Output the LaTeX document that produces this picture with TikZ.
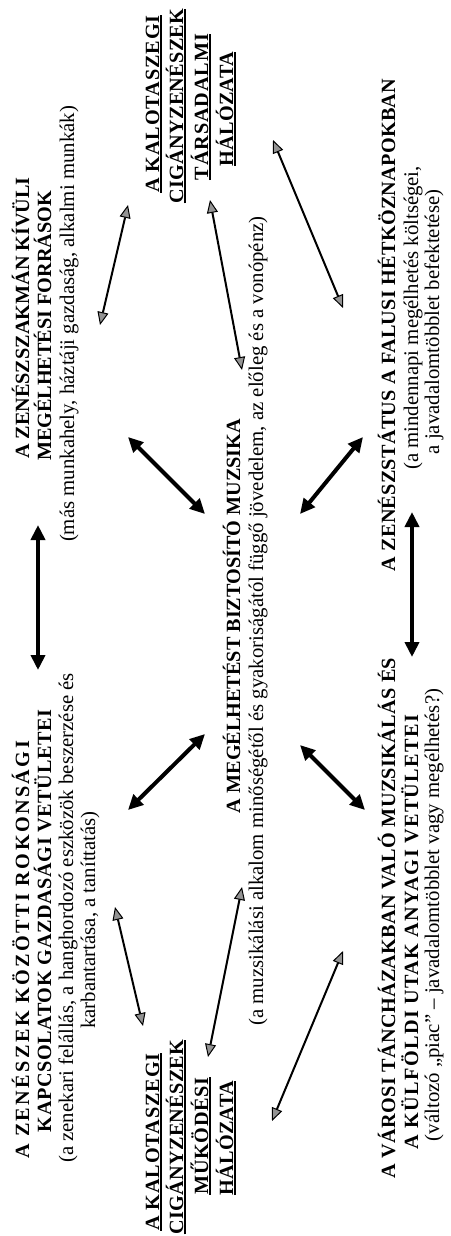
\documentclass[tikz,border=0pt]{standalone}
\usepackage{fontspec}
\setmainfont{Liberation Serif}
\usetikzlibrary{arrows.meta}
\newcommand\myul[1]{\setbox0=\hbox{#1}\rlap{\rule[-1.6pt]{\wd0}{0.9pt}}\box0}
\newcommand\lsp[2]{{\addfontfeature{LetterSpace=#1}#2}}
\begin{document}
\begin{tikzpicture}[x=0.5pt,y=-0.5pt,
  lbl/.style={rotate=90,anchor=base,inner sep=0pt,font=\fontsize{10.4}{12}\selectfont},
  hd/.style={rotate=90,anchor=base,inner sep=0pt,font=\fontsize{10.1}{12}\selectfont\bfseries},
  bigarr/.style={line width=2pt,{Triangle[length=7.5pt,width=7pt]}-{Triangle[length=7.5pt,width=7pt]}},
  thinarr/.style={line width=1pt,{Triangle[length=6.5pt,width=5.5pt,line width=0.5pt,fill=gray!85]}-{Triangle[length=6.5pt,width=5.5pt,line width=0.5pt,fill=gray!85]}}
]
\fill[white] (0,0) rectangle (450,1236);
\useasboundingbox (0,0) rectangle (450,1236);

% top-left block (image bottom-left)
\node[hd]  (tl1) at (29,950) {\lsp{12}{A ZENÉSZEK KÖZÖTTI ROKONSÁGI}};
\node[hd]  (tl2) at (51,921) {\lsp{3}{KAPCSOLATOK GAZDASÁGI VETÜLETEI}};
\node[lbl] (tl3) at (73,918) {(a zenekari felállás, a hanghordozó eszközök beszerzése és};
\node[lbl] (tl4) at (95,920) {karbantartása, a taníttatás)};

% top-right block (image top-left)
\node[hd]  (tr1) at (29,318) {A ZENÉSZSZAKMÁN KÍVÜLI};
\node[hd]  (tr2) at (51,326) {MEGÉLHETÉSI FORRÁSOK};
\node[lbl] (tr3) at (74,324) {(más munkahely, háztáji gazdaság, alkalmi munkák)};

% social network block
\node[hd] (so1) at (159,104) {\myul{\lsp{4.5}{A KALOTASZEGI}}};
\node[hd] (so2) at (183,106) {\myul{\lsp{1.5}{CIGÁNYZENÉSZEK}}};
\node[hd] (so3) at (208,107) {\myul{\lsp{4.5}{TÁRSADALMI}}};
\node[hd] (so4) at (233,109) {\myul{\lsp{1}{HÁLÓZATA}}};

% operating network block
\node[hd] (op1) at (159,1142) {\myul{\lsp{4.5}{A KALOTASZEGI}}};
\node[hd] (op2) at (183,1137) {\myul{\lsp{1.5}{CIGÁNYZENÉSZEK}}};
\node[hd] (op3) at (208,1136) {\myul{\lsp{3.7}{MŰKÖDÉSI}}};
\node[hd] (op4) at (233,1138) {\myul{\lsp{1}{HÁLÓZATA}}};

% centre
\node[hd]  (c1) at (240,616) {A MEGÉLHETÉST BIZTOSÍTÓ MUZSIKA};
\node[lbl] (c2) at (263,621) {(a muzsikálási alkalom minőségétől és gyakoriságától függő jövedelem, az előleg és a vonópénz)};

% bottom-left block (image bottom-right)
\node[hd]  (bl1) at (395,918) {\lsp{1.7}{A VÁROSI TÁNCHÁZAKBAN VALÓ MUZSIKÁLÁS ÉS}};
\node[hd]  (bl2) at (418,932) {\lsp{6.8}{A KÜLFÖLDI UTAK ANYAGI VETÜLETEI}};
\node[lbl] (bl3) at (439,915) {(változó „piac” – javadalomtöbblet vagy megélhetés?)};

% bottom-right block (image top-right)
\node[hd]  (br1) at (395,325) {\lsp{1.4}{A ZENÉSZSTÁTUS A FALUSI HÉTKÖZNAPOKBAN}};
\node[lbl] (br2) at (418,318) {(a mindennapi megélhetés költségei,};
\node[lbl] (br3) at (439,322) {a javadalomtöbblet befektetése)};

% arrow end points
\coordinate (a1s) at (38,525);  \coordinate (a1e) at (38,670);
\coordinate (a2s) at (412,512); \coordinate (a2e) at (412,657);
\coordinate (a3s) at (128,437); \coordinate (a3e) at (205,514);
\coordinate (a4s) at (128,810); \coordinate (a4e) at (205,734);
\coordinate (a5s) at (300,514); \coordinate (a5e) at (363,437);
\coordinate (a6s) at (300,745); \coordinate (a6e) at (365,810);

\coordinate (b1s) at (100,325); \coordinate (b1e) at (128,205);
\coordinate (b2s) at (210,200); \coordinate (b2e) at (242,370);
\coordinate (b3s) at (273,140); \coordinate (b3e) at (343,308);
\coordinate (b4s) at (115,907); \coordinate (b4e) at (143,1026);
\coordinate (b5s) at (242,887); \coordinate (b5e) at (208,1057);
\coordinate (b6s) at (343,951); \coordinate (b6e) at (272,1121);

\draw[bigarr] (a1s) -- (a1e);
\draw[bigarr] (a2s) -- (a2e);
\draw[bigarr] (a3s) -- (a3e);
\draw[bigarr] (a4s) -- (a4e);
\draw[bigarr] (a5s) -- (a5e);
\draw[bigarr] (a6s) -- (a6e);

\draw[thinarr] (b1s) -- (b1e);
\draw[thinarr] (b2s) -- (b2e);
\draw[thinarr] (b3s) -- (b3e);
\draw[thinarr] (b4s) -- (b4e);
\draw[thinarr] (b5s) -- (b5e);
\draw[thinarr] (b6s) -- (b6e);
\end{tikzpicture}
\end{document}
